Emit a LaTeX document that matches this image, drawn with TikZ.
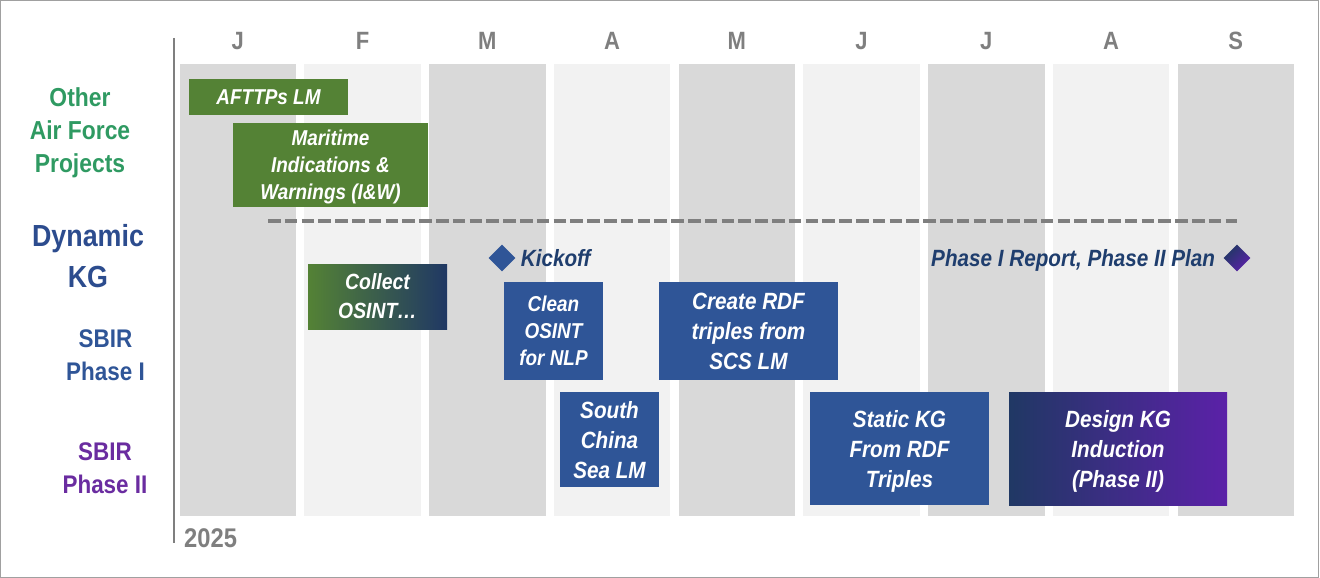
\documentclass[tikz,border=0pt]{standalone}
\usepackage{fontspec}
\setmainfont{Liberation Sans}
\newfontfamily\narrowsans[FakeStretch=0.88]{Liberation Sans}
\usetikzlibrary{positioning,shapes.geometric}

\definecolor{bandDark}{HTML}{D9D9D9}
\definecolor{bandLight}{HTML}{F2F2F2}
\definecolor{monthGray}{HTML}{7F7F7F}
\definecolor{frameGray}{HTML}{A0A0A0}
\definecolor{taskGreen}{HTML}{548235}
\definecolor{taskBlue}{HTML}{2F5597}
\definecolor{taskNavy}{HTML}{203864}
\definecolor{taskPurple}{HTML}{5B21A8}
\definecolor{msBlue}{HTML}{1F3E6E}
\definecolor{otherGreen}{HTML}{2F9A62}
\definecolor{dynBlue}{HTML}{2C4C8E}
\definecolor{sbirPurple}{HTML}{6A2CA0}

\tikzset{
  taskbox/.style={rectangle, inner sep=0pt, align=center, text=white, text depth=0pt,
    font=\narrowsans\bfseries\itshape\fontsize{21.5}{27}\selectfont},
  bigtask/.style={taskbox, font=\narrowsans\bfseries\itshape\fontsize{23.5}{30}\selectfont},
  milestone/.style={diamond, aspect=1, minimum width=27pt, minimum height=27pt, inner sep=0pt},
  mstext/.style={inner sep=0pt, text=msBlue, text height=16.8pt, text depth=0pt,
    font=\narrowsans\bfseries\itshape\fontsize{23.5}{28}\selectfont},
  monthlabel/.style={inner sep=0pt, text=monthGray, text height=18pt, text depth=0pt,
    font=\narrowsans\bfseries\fontsize{25}{30}\selectfont},
  rowlabel/.style={inner sep=0pt, align=center,
    font=\narrowsans\bfseries\fontsize{26}{33}\selectfont},
  sepline/.style={draw=monthGray, line width=3.5pt, dash pattern=on 12.5pt off 4.3pt},
  axisline/.style={draw=monthGray, line width=2.5pt}
}

\begin{document}
\begin{tikzpicture}[x=1pt,y=-1pt,>=stealth]
  % Canvas and frame
  \useasboundingbox (0,0) rectangle (1320,578);
  \draw[frameGray, line width=1pt] (0.5,0.5) rectangle (1318.5,577);

  % Month bands
  \def\bandw{116.5}
  \def\pitch{124.75}
  \foreach \i in {0,2,4,6,8}{
    \fill[bandDark] ({179.5+\pitch*\i},64) rectangle ++(\bandw,452);
  }
  \foreach \i in {1,3,5,7}{
    \fill[bandLight] ({179.5+\pitch*\i},64) rectangle ++(\bandw,452);
  }

  % Month letters
  \foreach \m [count=\i from 0] in {J,F,M,A,M,J,J,A,S}{
    \node[monthlabel] (m\i) at ({179.5+\pitch*\i+\bandw/2},40) {\m};
  }

  % Time axis
  \coordinate (axTop) at (174,38);
  \coordinate (axBot) at (174,543);
  \draw[axisline] (axTop) -- (axBot);
  \node[monthlabel, anchor=west, text height=19pt, font=\narrowsans\bfseries\fontsize{27}{30}\selectfont]
    (year) at (184,538) {2025};

  % Row labels
  \node[rowlabel, text=otherGreen] (otherlbl) at (80,132.7) {Other\\Air Force\\Projects};
  \node[rowlabel, text=dynBlue, font=\narrowsans\bfseries\fontsize{30.5}{41}\selectfont]
    (dynlbl) at (88,256.4) {Dynamic\\KG};
  \node[rowlabel, text=taskBlue, font=\narrowsans\bfseries\fontsize{25.5}{33}\selectfont]
    (sbirone) at (105.5,355.4) {SBIR\\Phase I};
  \node[rowlabel, text=sbirPurple, font=\narrowsans\bfseries\fontsize{25.5}{33}\selectfont]
    (sbirtwo) at (105,468.4) {SBIR\\Phase II};

  % Separator
  \coordinate (sepL) at (268,221);
  \coordinate (sepR) at (1237,221);
  \draw[sepline] (sepL) -- (sepR);

  % Other Air Force projects
  \node[taskbox, fill=taskGreen, minimum width=159pt, minimum height=36pt]
    (afttps) at (268.5,97) {AFTTPs LM};
  \node[taskbox, fill=taskGreen, minimum width=195pt, minimum height=84pt]
    (maritime) at (330.5,165) {Maritime\\Indications \&\\Warnings (I\&W)};

  % Phase I tasks
  \node[taskbox, left color=taskGreen, right color=taskNavy, minimum width=139pt, minimum height=65pt,
    font=\narrowsans\bfseries\itshape\fontsize{22}{29}\selectfont]
    (collect) at (377.5,296.5) {Collect\\OSINT…};
  \node[taskbox, fill=taskBlue, minimum width=99pt, minimum height=98pt]
    (clean) at (553.5,331) {Clean\\OSINT\\for NLP};
  \node[bigtask, fill=taskBlue, minimum width=99pt, minimum height=95pt]
    (scslm) at (609.5,439.5) {South\\China\\Sea LM};
  \node[bigtask, fill=taskBlue, minimum width=179pt, minimum height=98pt]
    (rdf) at (748.5,331) {Create RDF\\triples from\\SCS LM};
  \node[bigtask, fill=taskBlue, minimum width=179pt, minimum height=113pt]
    (statickg) at (899.5,448.5) {Static KG\\From RDF\\Triples};

  % Phase II task
  \node[bigtask, left color=taskNavy, right color=taskPurple, minimum width=218pt, minimum height=113pt]
    (designkg) at (1118,448.5) {Design KG\\Induction\\(Phase II)};

  % Milestones
  \node[milestone, fill=taskBlue] (kickmark) at (502,258) {};
  \node[mstext, right=5pt of kickmark] (kicktext) {Kickoff};
  \node[milestone, top color=taskNavy, bottom color=taskPurple, shading angle=45]
    (reportmark) at (1237,258) {};
  \node[mstext, left=8pt of reportmark] (reporttext) {Phase I Report, Phase II Plan};
\end{tikzpicture}
\end{document}
